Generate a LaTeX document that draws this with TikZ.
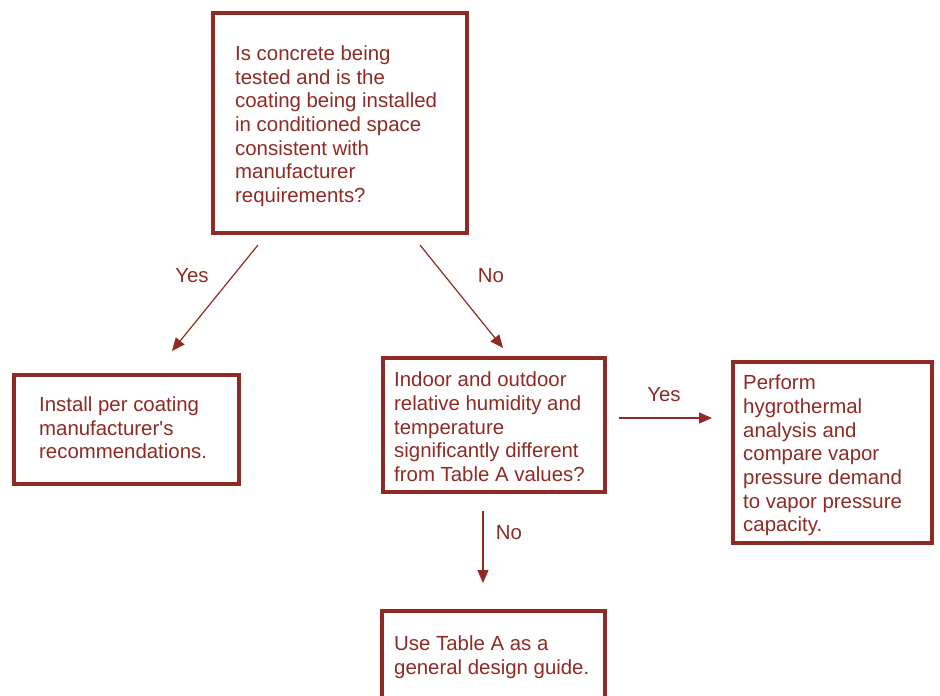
\documentclass[tikz,border=0pt]{standalone}
\usepackage{fontspec}
\setmainfont{Liberation Sans}
\usetikzlibrary{arrows.meta}
\definecolor{brick}{RGB}{143,42,36}
\begin{document}
\begin{tikzpicture}[x=1pt,y=-1pt,
  box/.style={draw=brick,line width=4pt,outer sep=0pt,inner sep=0pt,anchor=north west,rectangle},
  txt/.style={anchor=north west,inner sep=0pt,align=left,text=brick,font=\fontsize{20.4}{23.7}\selectfont},
  lbl/.style={inner sep=0pt,text=brick,font=\fontsize{20.4}{23.7}\selectfont},
  conn/.style={draw=brick,line width=1.2pt,-{Triangle[length=13pt,width=11pt]}}]
\clip (0,0) rectangle (940,696);
\fill[white] (0,0) rectangle (940,696);
% boxes
\node[box,minimum width=254pt,minimum height=220pt] (qbox) at (213,13) {};
\node[box,minimum width=225pt,minimum height=109pt] (lbox) at (14,375) {};
\node[box,minimum width=222pt,minimum height=134pt] (mbox) at (383,358) {};
\node[box,minimum width=199pt,minimum height=181pt] (rbox) at (733,362) {};
\node[box,minimum width=223pt,minimum height=109pt] (bbox) at (382,611) {};
% texts
\node[txt] (qtxt) at (235,45.5) {Is concrete being\\tested and is the\\coating being installed\\in conditioned space\\consistent with\\manufacturer\\requirements?};
\node[txt] (ltxt) at (39,396.5) {Install per coating\\manufacturer\textquotesingle s\\recommendations.};
\node[txt] (mtxt) at (394,371.8) {Indoor and outdoor\\relative humidity and\\temperature\\significantly different\\from Table A values?};
\node[txt] (rtxt) at (743,374.8) {Perform\\hygrothermal\\analysis and\\compare vapor\\pressure demand\\to vapor pressure\\capacity.};
\node[txt] (btxt) at (394,635.5) {Use Table A as a\\general design guide.};
% connector ends
\coordinate (a1) at (258,245); \coordinate (a2) at (172,351);
\coordinate (b1) at (420,245); \coordinate (b2) at (503,348);
\coordinate (c1) at (619,418); \coordinate (c2) at (712,418);
\coordinate (d1) at (483,511); \coordinate (d2) at (483,583);
\draw[conn] (a1) -- (a2);
\draw[conn] (b1) -- (b2);
\draw[conn] (c1) -- (c2);
\draw[conn] (d1) -- (d2);
% labels
\node[lbl] (yes1) at (192,276) {Yes};
\node[lbl] (no1) at (491,276) {No};
\node[lbl] (yes2) at (664,395) {Yes};
\node[lbl] (no2) at (509,533) {No};
\end{tikzpicture}
\end{document}
